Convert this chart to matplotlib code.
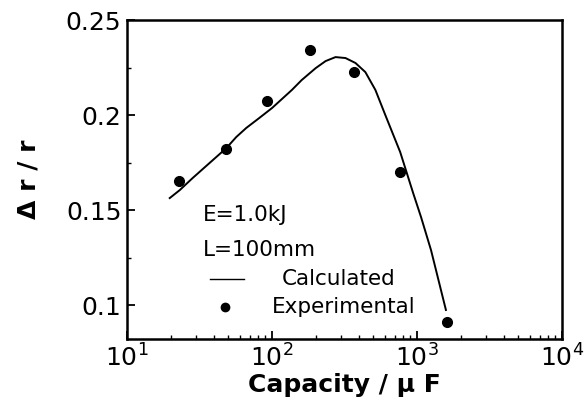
import matplotlib
matplotlib.use("Agg")
import matplotlib.pyplot as plt
from matplotlib.ticker import LogLocator, FixedLocator, NullFormatter

plt.rcParams['font.family'] = ['DejaVu Sans']

# experimental points
exp_cap = [23, 48, 92, 182, 370, 760, 1600]
exp_dr = [0.1653, 0.1821, 0.2074, 0.2342, 0.2226, 0.170, 0.0911]

# calculated curve
calc_cap = [19.7, 23.1, 28.3, 37.0, 48.4, 56.6, 66.4, 81.5, 100, 137, 160, 200, 234, 274,
            321, 376, 440, 516, 604, 765, 940, 1065, 1248, 1581]
calc_dr = [0.1563, 0.1605, 0.1668, 0.1747, 0.1826, 0.1884, 0.1932, 0.1984, 0.2037, 0.2132,
           0.2184, 0.2247, 0.2284, 0.2305, 0.2300, 0.2274, 0.2226, 0.2132, 0.2000, 0.1805,
           0.1589, 0.1463, 0.1289, 0.0974]

yticks = [0.1, 0.15, 0.2, 0.25]
ytick_labels = ['0.1', '0.15', '0.2', '0.25']

fig = plt.figure(figsize=(5.84, 4.09), dpi=100)
ax = fig.add_axes([0.2175, 0.171, 0.745, 0.780])

ax.plot(calc_cap, calc_dr, color='black', lw=1.4, solid_joinstyle='round')
ax.plot(exp_cap, exp_dr, 'o', color='black', ms=7)

ax.set_xscale('log')
ax.set_xlim(10, 1e4)
ax.set_ylim(0.0821, 0.25)
ax.set_yticks(yticks)
ax.set_yticklabels(ytick_labels)
ax.yaxis.set_minor_locator(FixedLocator([0.125, 0.175, 0.225]))
ax.xaxis.set_major_locator(LogLocator(base=10, numticks=10))
ax.xaxis.set_minor_locator(LogLocator(base=10, subs=range(2, 10), numticks=20))
ax.xaxis.set_minor_formatter(NullFormatter())

for s in ax.spines.values():
    s.set_linewidth(1.8)

ax.tick_params(axis='both', which='major', direction='in', length=6, width=1.3, labelsize=18, pad=4)
ax.tick_params(axis='both', which='minor', direction='in', length=3, width=1.0)

ax.set_xlabel('Capacity / \u03bc F', fontsize=18, fontweight='bold', labelpad=1)
ax.set_ylabel('\u0394 r / r', fontsize=18, fontweight='bold', labelpad=18)

# annotations / legend
ax.text(0.175, 0.389, 'E=1.0kJ', transform=ax.transAxes, fontsize=15.5, va='center', ha='left')
ax.text(0.175, 0.279, 'L=100mm', transform=ax.transAxes, fontsize=15.5, va='center', ha='left')
ax.plot([0.19, 0.27], [0.188, 0.188], transform=ax.transAxes, color='black', lw=1.0)
ax.text(0.356, 0.188, 'Calculated', transform=ax.transAxes, fontsize=15.5, va='center', ha='left')
ax.plot([0.225], [0.100], 'o', transform=ax.transAxes, color='black', ms=6)
ax.text(0.333, 0.100, 'Experimental', transform=ax.transAxes, fontsize=15.5, va='center', ha='left')

fig.savefig('out.png', dpi=100)
